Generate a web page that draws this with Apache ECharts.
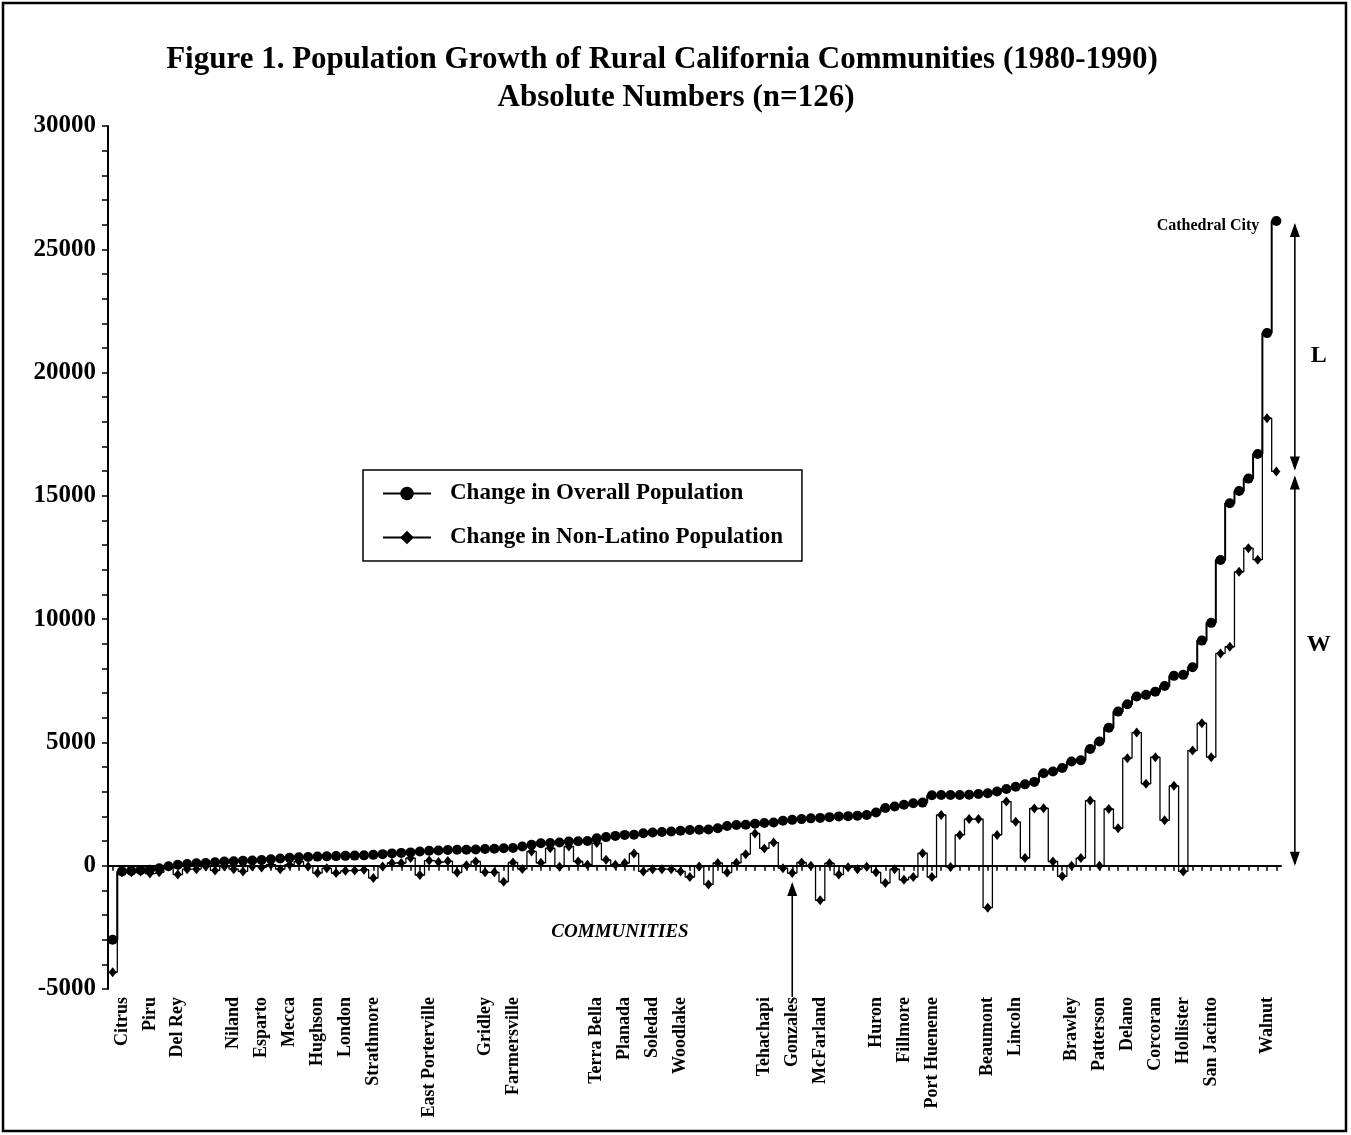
<!DOCTYPE html>
<html>
<head>
<meta charset="utf-8">
<script src="https://cdn.jsdelivr.net/npm/echarts@6/dist/echarts.min.js"></script>
<style>
html,body{margin:0;padding:0;background:#fff;}
#chart{width:1351px;height:1135px;}
</style>
</head>
<body>
<div id="chart"></div>
<script>
// Communities (126), only every few are labelled in the figure
const communities = [
  '', 'Citrus', '', '', 'Piru', '', '', 'Del Rey', '', '',
  '', '', '', 'Niland', '', '', 'Esparto', '', '', 'Mecca',
  '', '', 'Hughson', '', '', 'London', '', '', 'Strathmore', '',
  '', '', '', '', 'East Porterville', '', '', '', '', '',
  'Gridley', '', '', 'Farmersville', '', '', '', '', '', '',
  '', '', 'Terra Bella', '', '', 'Planada', '', '', 'Soledad', '',
  '', 'Woodlake', '', '', '', '', '', '', '', '',
  'Tehachapi', '', '', 'Gonzales', '', '', 'McFarland', '', '', '',
  '', '', 'Huron', '', '', 'Fillmore', '', '', 'Port Hueneme', '',
  '', '', '', '', 'Beaumont', '', '', 'Lincoln', '', '',
  '', '', '', 'Brawley', '', '', 'Patterson', '', '', 'Delano',
  '', '', 'Corcoran', '', '', 'Hollister', '', '', 'San Jacinto', '',
  '', '', '', '', 'Walnut', 'Cathedral City'
];

// Change in overall population 1980-1990
const overallChange = [
  -3000, -230, -210, -180, -160, -100, -20, 40, 70, 100,
  110, 140, 170, 180, 200, 210, 230, 260, 290, 320,
  340, 350, 370, 380, 390, 400, 410, 420, 440, 470,
  500, 520, 540, 580, 610, 620, 640, 650, 650, 660,
  680, 690, 710, 720, 780, 850, 910, 920, 945, 980,
  990, 1000, 1110, 1160, 1210, 1250, 1260, 1320, 1350, 1370,
  1390, 1420, 1450, 1460, 1470, 1520, 1610, 1650, 1660, 1700,
  1730, 1755, 1820, 1860, 1890, 1920, 1940, 1970, 2000, 2010,
  2030, 2060, 2160, 2340, 2400, 2470, 2530, 2560, 2860, 2870,
  2870, 2870, 2880, 2910, 2940, 3010, 3110, 3200, 3300, 3400,
  3750, 3820, 3960, 4230, 4280, 4730, 5040, 5600, 6250, 6550,
  6860, 6930, 7060, 7290, 7700, 7740, 8050, 9130, 9850, 12400,
  14700, 15200, 15700, 16700, 21600, 26150
];

// Change in non-Latino population 1980-1990
const nonLatinoChange = [
  -4320, -270, -270, -230, -320, -270, -30, -360, -140, -140,
  -30, -190, -30, -140, -230, -30, -70, 40, -140, 40,
  170, -30, -300, -100, -300, -200, -190, -160, -500, -30,
  110, 110, 310, -380, 210, 150, 190, -280, 20, 170,
  -270, -270, -650, 130, -130, 580, 120, 710, -40, 780,
  170, 40, 920, 240, 40, 110, 500, -230, -140, -140,
  -140, -230, -460, -30, -760, 110, -280, 120, 470, 1310,
  700, 940, -100, -300, 130, 0, -1400, 100, -360, -60,
  -140, -40, -270, -700, -140, -570, -460, 510, -460, 2060,
  -50, 1250, 1890, 1890, -1700, 1250, 2600, 1780, 310, 2320,
  2330, 170, -430, 0, 310, 2640, 0, 2300, 1520, 4360,
  5400, 3320, 4400, 1840, 3240, -230, 4670, 5780, 4400, 8610,
  8880, 11920, 12880, 12410, 18150, 15990
];

const yMin = -5000, yMax = 30000, yStep = 5000;
const seriesNames = ['Change in Overall Population', 'Change in Non-Latino Population'];
const titleLines = ['Figure 1. Population Growth of Rural California Communities (1980-1990)', 'Absolute Numbers (n=126)'];
const annotatedIndex = 73; // Gonzales (arrow)

const SERIF = '"Liberation Serif", "Times New Roman", serif';
const lastIdx = overallChange.length - 1;

const chart = echarts.init(document.getElementById('chart'), null, {renderer: 'canvas'});

const option = {
  animation: false,
  backgroundColor: '#fff',
  legend: {
    data: seriesNames,
    orient: 'vertical',
    left: 363,
    top: 470,
    itemWidth: 48,
    itemHeight: 17,
    itemGap: 21,
    padding: [12, 19, 12, 19],
    borderColor: '#000',
    borderWidth: 1.5,
    backgroundColor: '#fff',
    textStyle: {fontFamily: SERIF, fontWeight: 'bold', fontSize: 23, color: '#000', padding: [0, 0, 0, 14]}
  },
  grid: {left: 108, top: 126, width: 1173, height: 863, containLabel: false, outerBoundsMode: 'none'},
  xAxis: {
    type: 'category',
    data: communities,
    boundaryGap: true,
    axisLine: {show: true, onZero: true, lineStyle: {color: '#000', width: 2}},
    axisTick: {show: true, alignWithLabel: true, interval: 0, length: 5, lineStyle: {color: '#000', width: 1.5}},
    axisLabel: {
      interval: 0, rotate: 90, margin: 8,
      fontFamily: SERIF, fontWeight: 'bold', fontSize: 18, color: '#000',
      formatter: function (v, i) { return i === lastIdx ? '' : v; }
    },
    splitLine: {show: false}
  },
  yAxis: {
    type: 'value',
    min: yMin, max: yMax, interval: yStep,
    axisLine: {show: true, lineStyle: {color: '#000', width: 2}},
    axisTick: {show: true, length: 6, lineStyle: {color: '#000', width: 1.5}},
    minorTick: {show: true, splitNumber: 5, length: 6, lineStyle: {color: '#000', width: 1.5}},
    splitLine: {show: false},
    minorSplitLine: {show: false},
    axisLabel: {fontFamily: SERIF, fontWeight: 'bold', fontSize: 25, color: '#000', margin: 12,
      formatter: function (v) { return String(v); }}
  },
  series: [
    {
      name: seriesNames[0],
      type: 'line',
      step: 'middle',
      symbol: 'circle',
      symbolSize: 10,
      showAllSymbol: true,
      lineStyle: {color: '#000', width: 2},
      itemStyle: {color: '#000'},
      z: 3,
      data: overallChange.map(function (v, i) {
        if (i !== lastIdx) return v;
        return {
          value: v,
          label: {show: true, position: 'left', distance: 12, offset: [0, 5],
            formatter: '{b}', fontFamily: SERIF, fontWeight: 'bold', fontSize: 16, color: '#000'}
        };
      })
    },
    {
      name: seriesNames[1],
      type: 'line',
      step: 'middle',
      symbol: 'diamond',
      symbolSize: [8, 10],
      showAllSymbol: true,
      lineStyle: {color: '#000', width: 1.3},
      itemStyle: {color: '#000'},
      z: 2,
      data: nonLatinoChange
    }
  ]
};

chart.setOption(option);

// ---- annotations positioned through the chart's own scales ----
function px(i, v) { return chart.convertToPixel({xAxisIndex: 0, yAxisIndex: 0}, [i, v]); }

function vArrow(x, yTop, yBottom, headTop, headBottom) {
  const els = [];
  const h = 14, w = 5;
  els.push({type: 'line', shape: {x1: x, y1: yTop + (headTop ? 2 : 0), x2: x, y2: yBottom - (headBottom ? 2 : 0)},
    style: {stroke: '#000', lineWidth: 1.6}, silent: true, z: 20});
  if (headTop) els.push({type: 'polygon', shape: {points: [[x, yTop], [x - w, yTop + h], [x + w, yTop + h]]},
    style: {fill: '#000'}, silent: true, z: 20});
  if (headBottom) els.push({type: 'polygon', shape: {points: [[x, yBottom], [x - w, yBottom - h], [x + w, yBottom - h]]},
    style: {fill: '#000'}, silent: true, z: 20});
  return els;
}

const pTop = px(lastIdx, overallChange[lastIdx]);
const pMid = px(lastIdx, nonLatinoChange[lastIdx]);
const pZero = px(lastIdx, 0);
const ax = pTop[0] + 18.5;

let graphics = [];
graphics = graphics.concat(vArrow(ax, pTop[1] + 2, pMid[1] - 1, true, true));
graphics = graphics.concat(vArrow(ax, pMid[1] + 4, pZero[1], true, true));
graphics.push({type: 'text', x: ax + 24, y: (pTop[1] + pMid[1]) / 2 + 10,
  style: {text: 'L', font: 'bold 24px ' + SERIF, fill: '#000', textAlign: 'center', textVerticalAlign: 'middle'}, z: 20});
graphics.push({type: 'text', x: ax + 24, y: (pMid[1] + pZero[1]) / 2 - 24,
  style: {text: 'W', font: 'bold 24px ' + SERIF, fill: '#000', textAlign: 'center', textVerticalAlign: 'middle'}, z: 20});

// Gonzales arrow
const pG = px(annotatedIndex, nonLatinoChange[annotatedIndex]);
const pGb = px(annotatedIndex, yMin);
graphics = graphics.concat(vArrow(pG[0], pG[1] + 9, pGb[1] + 8, true, false));

// Title lines
graphics.push({type: 'text', x: 662, y: 60,
  style: {text: titleLines[0], font: 'bold 31px ' + SERIF, fill: '#000', textAlign: 'center', textVerticalAlign: 'middle'}, z: 20});
graphics.push({type: 'text', x: 676, y: 98,
  style: {text: titleLines[1], font: 'bold 31px ' + SERIF, fill: '#000', textAlign: 'center', textVerticalAlign: 'middle'}, z: 20});

// Axis title
graphics.push({type: 'text', x: 620, y: 932,
  style: {text: 'COMMUNITIES', font: 'italic bold 19px ' + SERIF, fill: '#000', textAlign: 'center', textVerticalAlign: 'middle'}, z: 20});

// Frame
graphics.push({type: 'rect', shape: {x: 3, y: 3, width: 1343, height: 1128},
  style: {fill: null, stroke: '#000', lineWidth: 2.5}, silent: true, z: 0});

chart.setOption({graphic: graphics});
</script>
</body>
</html>
